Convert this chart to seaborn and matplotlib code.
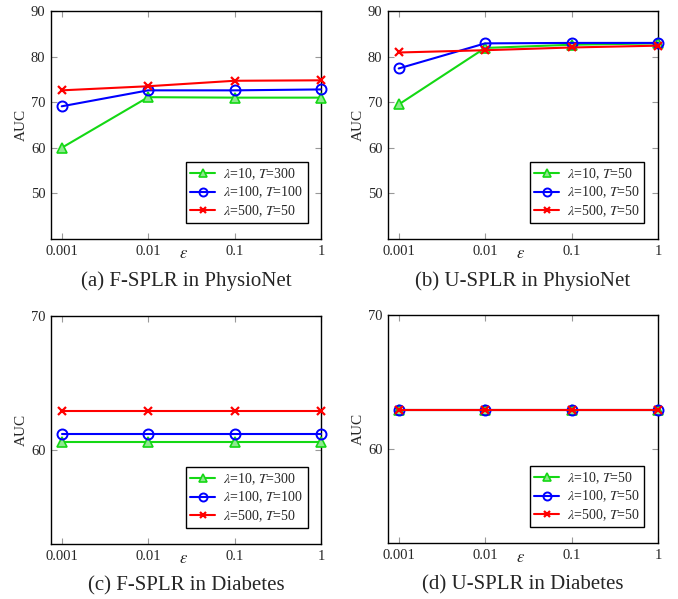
import pandas as pd
import numpy as np
import matplotlib
matplotlib.use("Agg")
import matplotlib.pyplot as plt
import seaborn as sns

# epsilon values on the x axis
eps = [0.001, 0.01, 0.1, 1]
eps_labels = ["0.001", "0.01", "0.1", "1"]

# (a) F-SPLR in PhysioNet
a_l10 = [60.0, 71.1, 71.0, 71.0]
a_l100 = [69.1, 72.6, 72.6, 72.8]
a_l500 = [72.6, 73.5, 74.7, 74.8]

# (b) U-SPLR in PhysioNet
b_l10 = [69.5, 81.9, 82.6, 82.9]
b_l100 = [77.4, 82.9, 83.0, 83.0]
b_l500 = [80.9, 81.4, 82.0, 82.4]

# (c) F-SPLR in Diabetes
c_l10 = [60.6, 60.6, 60.6, 60.6]
c_l100 = [61.2, 61.2, 61.2, 61.2]
c_l500 = [62.9, 62.9, 62.9, 62.9]

# (d) U-SPLR in Diabetes
d_l10 = [62.9, 62.9, 62.9, 62.9]
d_l100 = [62.9, 62.9, 62.9, 62.9]
d_l500 = [62.9, 62.9, 62.9, 62.9]

labels_f = [r"$\lambda$=10, $T$=300", r"$\lambda$=100, $T$=100", r"$\lambda$=500, $T$=50"]
labels_u = [r"$\lambda$=10, $T$=50", r"$\lambda$=100, $T$=50", r"$\lambda$=500, $T$=50"]

captions = ["(a) F-SPLR in PhysioNet", "(b) U-SPLR in PhysioNet",
            "(c) F-SPLR in Diabetes", "(d) U-SPLR in Diabetes"]

sns.set_style("ticks")
plt.rcParams["font.family"] = ["Liberation Serif", "DejaVu Serif"]
plt.rcParams["mathtext.fontset"] = "stix"

GREEN = "#14d814"
BLUE = "#0000ff"
RED = "#ff0000"


def draw_panel(ax, series, labels, ylim, yticks, caption):
    styles = [
        dict(color=GREEN, marker="^", markersize=7, markerfacecolor="#8ee88e",
             markeredgecolor=GREEN, markeredgewidth=1.2),
        dict(color=BLUE, marker="o", markersize=7.2, markerfacecolor="none",
             markeredgecolor=BLUE, markeredgewidth=1.4),
        dict(color=RED, marker="x", markersize=5.5, markeredgecolor=RED,
             markeredgewidth=1.6),
    ]
    for vals, lab, st in zip(series, labels, styles):
        df = pd.DataFrame({"eps": eps, "auc": vals})
        sns.lineplot(data=df, x="eps", y="auc", ax=ax, label=lab,
                     linewidth=1.5, clip_on=False, zorder=3, **st)
    ax.set_xscale("log")
    ax.set_xlim(10 ** -3.124, 1)
    ax.set_ylim(*ylim)
    ax.set_xticks(eps)
    ax.set_xticklabels(eps_labels)
    ax.minorticks_off()
    ax.set_yticks(yticks)
    ax.tick_params(direction="in", top=True, right=True, length=4,
                   width=0.8, color="#999999", labelsize=10.5, pad=4)
    for sp in ax.spines.values():
        sp.set_linewidth(1.0)
        sp.set_color("black")
    ax.set_ylabel("AUC", fontsize=11, labelpad=2)
    ax.set_xlabel(r"$\epsilon$", fontsize=12)
    ax.xaxis.set_label_coords(0.49, -0.03)
    ax.text(0.5, -0.185, caption, transform=ax.transAxes, ha="center",
            va="center", fontsize=15)
    leg = ax.legend(loc="lower right", bbox_to_anchor=(0.95, 0.07),
                    fontsize=10, frameon=True, fancybox=False,
                    edgecolor="black", framealpha=1, handlelength=1.8,
                    labelspacing=0.2, borderpad=0.3, handletextpad=0.6,
                    borderaxespad=0)
    leg.get_frame().set_linewidth(1.0)
    for h in leg.legend_handles:
        h.set_markersize(h.get_markersize() * 0.8)


fig = plt.figure(figsize=(6.78, 5.99), dpi=100)
W, H = 678, 599
boxes = [(51, 11), (388, 11), (51, 316), (388, 315)]
axes = []
for (x0, y0) in boxes:
    axes.append(fig.add_axes([x0 / W, 1 - (y0 + 228) / H, 270 / W, 228 / H]))

draw_panel(axes[0], [a_l10, a_l100, a_l500], labels_f, (40, 90), [50, 60, 70, 80, 90], captions[0])
draw_panel(axes[1], [b_l10, b_l100, b_l500], labels_u, (40, 90), [50, 60, 70, 80, 90], captions[1])
draw_panel(axes[2], [c_l10, c_l100, c_l500], labels_f, (53, 70), [60, 70], captions[2])
draw_panel(axes[3], [d_l10, d_l100, d_l500], labels_u, (53, 70), [60, 70], captions[3])

fig.savefig("out.png", dpi=100)
